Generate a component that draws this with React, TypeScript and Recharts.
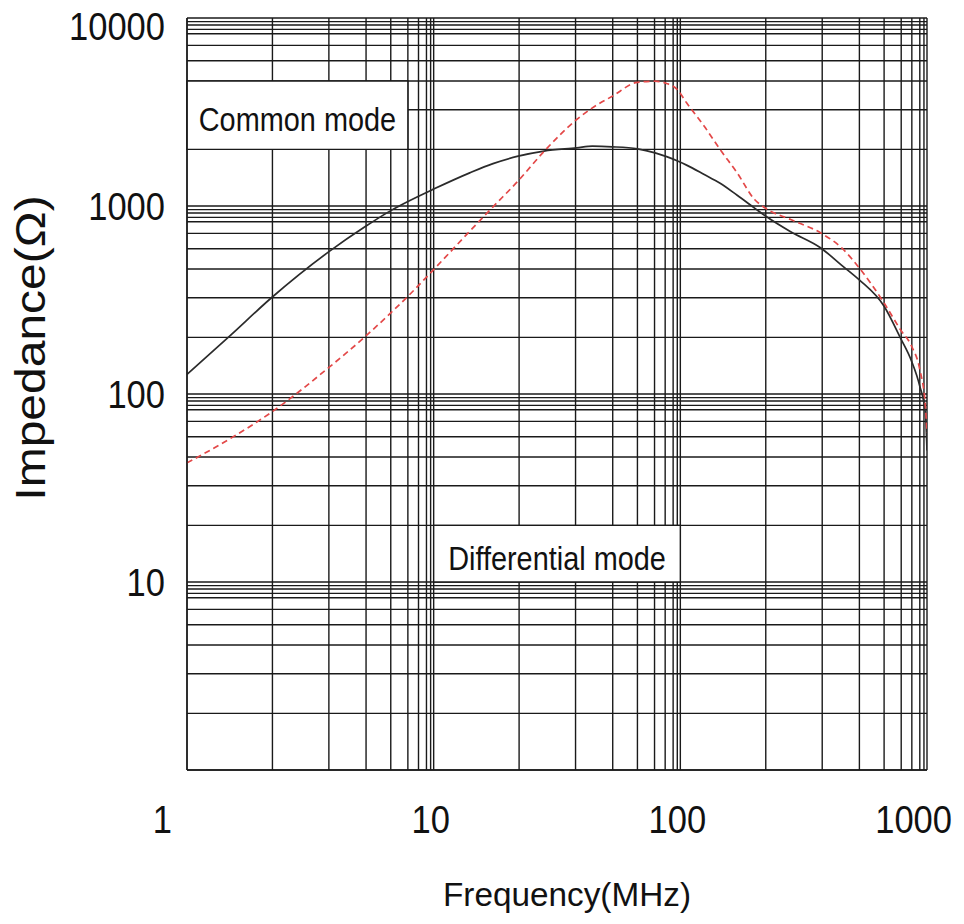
import React from "react";
import {
  LineChart,
  Line,
  XAxis,
  YAxis,
  CartesianGrid,
  ReferenceArea,
} from "recharts";

// Frequency samples (MHz) and impedance readings (ohm) taken off the datasheet curve
const freq = [
  1, 1.5, 2.2, 3.75, 5.3, 6.7, 7.9, 10, 14, 17.4, 22, 28, 38, 44, 53, 67, 79,
  88, 97, 106, 125, 145, 170, 200, 220, 280, 370, 450, 530, 670, 780, 865, 935,
  985, 1000,
];
const commonMode = [
  127, 205, 325, 570, 780, 945, 1060, 1230, 1500, 1680, 1841, 1960, 2038, 2080,
  2065, 2015, 1918, 1830, 1740, 1650, 1470, 1320, 1140, 975, 890, 730, 600, 485,
  406, 293, 199, 150, 110, 79, 50,
];
const differentialMode = [
  43, 58, 80, 138, 203, 270, 333, 459, 734, 990, 1360, 1950, 2884, 3327, 3836,
  4550, 4610, 4485, 4168, 3540, 2656, 1996, 1500, 1083, 978, 847, 720, 600, 470,
  305, 220, 180, 135, 86, 62,
];

// Grid lines of the printed log paper (it is not a textbook 2..9 grid)
const xDecades = [1, 10, 100, 1000];
const yDecades = [1, 10, 100, 1000, 10000];
const xMinor = [2.22, 3.76, 5.32, 6.7, 7.86, 8.68, 9.35, 9.72];
const yMinor = [2.0, 3.25, 4.62, 5.92, 7.15, 8.25, 8.7, 9.17, 9.57];
const xTickLabels = [1, 10, 100, 1000];
const yTickLabels = [10, 100, 1000, 10000];

// Annotation boxes, in data units
const notes = [
  { text: "Common mode", f: [1, 7.86], z: [2000, 4620] },
  { text: "Differential mode", f: [10, 100], z: [10, 20] },
];

const FONT = '"Liberation Sans", Arial, Helvetica, sans-serif';
const GRID = "#1a1a1a";
const GRID_W = 1.4;

const buildTicks = (decades: number[], minor: number[]) =>
  decades.flatMap((d, i) =>
    i < decades.length - 1
      ? [d, ...minor.map((m) => Number((m * d).toPrecision(4)))]
      : [d]
  );

const xTicks = buildTicks(xDecades, xMinor);
const yTicks = buildTicks(yDecades, yMinor);

const rows = freq.map((f, i) => ({
  f,
  common: commonMode[i],
  diff: differentialMode[i],
}));

const XTick = (props: any) => {
  const { x, y, payload } = props;
  const v = payload.value;
  if (!xTickLabels.includes(v)) return <g />;
  const label = String(v);
  let anchor = "middle";
  let dx = -3;
  if (v === xTickLabels[0]) {
    anchor = "end";
    dx = -15;
  } else if (v === xTickLabels[xTickLabels.length - 1]) {
    anchor = "end";
    dx = 25;
  }
  return (
    <text
      x={x + dx}
      y={y + 63}
      textAnchor={anchor}
      fontFamily={FONT}
      fontSize={38}
      fill="#111"
      textLength={label.length * 19.2}
      lengthAdjust="spacingAndGlyphs"
    >
      {label}
    </text>
  );
};

const YTick = (props: any) => {
  const { x, y, payload } = props;
  const v = payload.value;
  if (!yTickLabels.includes(v)) return <g />;
  const label = String(v);
  const top = v === yTickLabels[yTickLabels.length - 1];
  return (
    <text
      x={x - 22}
      y={y + (top ? 22 : 14)}
      textAnchor="end"
      fontFamily={FONT}
      fontSize={38}
      fill="#111"
      textLength={label.length * 19.2}
      lengthAdjust="spacingAndGlyphs"
    >
      {label}
    </text>
  );
};

const renderXTitle = (props: any) => {
  const vb = props.viewBox;
  return (
    <text
      x={vb.x + vb.width / 2 + 10}
      y={vb.y + 136}
      textAnchor="middle"
      fontFamily={FONT}
      fontSize={34}
      fill="#111"
      textLength={248}
      lengthAdjust="spacingAndGlyphs"
    >
      Frequency(MHz)
    </text>
  );
};

const renderYTitle = (props: any) => {
  const vb = props.viewBox;
  const cx = vb.x + 45;
  const cy = vb.y + 330;
  return (
    <text
      transform={`translate(${cx},${cy}) rotate(-90) scale(1,0.88)`}
      textAnchor="middle"
      fontFamily={FONT}
      fontSize={48}
      fill="#111"
    >
      Impedance(Ω)
    </text>
  );
};

const boxLabel = (text: string) => (props: any) => {
  const vb = props.viewBox;
  return (
    <text
      transform={`translate(${vb.x + vb.width / 2},${vb.y + vb.height / 2 + 16}) scale(0.875,1)`}
      textAnchor="middle"
      fontFamily={FONT}
      fontSize={33}
      fill="#111"
    >
      {text}
    </text>
  );
};

export default function App() {
  return (
    <div style={{ position: "absolute", left: 0, top: 0, background: "#fff" }}>
      <LineChart
        width={964}
        height={924}
        data={rows}
        margin={{ top: 18, right: 37, bottom: 0, left: 0 }}
      >
        <CartesianGrid stroke={GRID} strokeWidth={GRID_W} />
        <XAxis
          dataKey="f"
          type="number"
          scale="log"
          domain={[1, 1000]}
          ticks={xTicks}
          interval={0}
          allowDataOverflow
          axisLine={{ stroke: GRID, strokeWidth: GRID_W }}
          tickLine={false}
          tickSize={0}
          tickMargin={0}
          height={154}
          tick={XTick}
          label={renderXTitle}
        />
        <YAxis
          type="number"
          scale="log"
          domain={[1, 10000]}
          ticks={yTicks}
          interval={0}
          allowDataOverflow
          axisLine={{ stroke: GRID, strokeWidth: GRID_W }}
          tickLine={false}
          tickSize={0}
          tickMargin={0}
          width={187}
          tick={YTick}
          label={renderYTitle}
        />
        {notes.map((n) => (
          <ReferenceArea
            key={n.text}
            x1={n.f[0]}
            x2={n.f[1]}
            y1={n.z[0]}
            y2={n.z[1]}
            fill="#fff"
            fillOpacity={1}
            stroke={GRID}
            strokeWidth={GRID_W}
            label={boxLabel(n.text)}
          />
        ))}
        <Line
          type="monotone"
          dataKey="common"
          stroke="#2b2b2b"
          strokeWidth={1.7}
          dot={false}
          isAnimationActive={false}
        />
        <Line
          type="monotone"
          dataKey="diff"
          stroke="#e34848"
          strokeWidth={1.7}
          strokeDasharray="6 4"
          dot={false}
          isAnimationActive={false}
        />
      </LineChart>
    </div>
  );
}
